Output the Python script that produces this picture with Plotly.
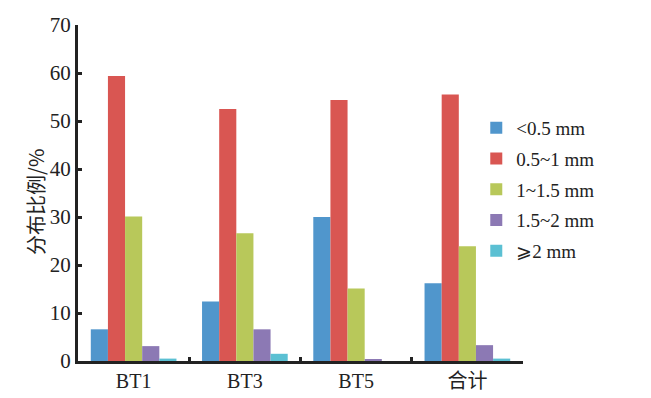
import plotly.graph_objects as go

categories = ["BT1", "BT3", "BT5", "合计"]
series_names = ["<0.5 mm", "0.5~1 mm", "1~1.5 mm", "1.5~2 mm", "⩾2 mm"]
v_lt05 = [6.6, 12.4, 30.0, 16.2]
v_05_1 = [59.4, 52.5, 54.4, 55.5]
v_1_15 = [30.1, 26.6, 15.1, 23.9]
v_15_2 = [3.1, 6.6, 0.4, 3.3]
v_ge2 = [0.5, 1.5, 0.0, 0.5]
colors = ["#5096CC", "#D95652", "#B8C85A", "#8C79B4", "#5BC0D3"]

series = [v_lt05, v_05_1, v_1_15, v_15_2, v_ge2]

fig = go.Figure()
for name, vals, c in zip(series_names, series, colors):
    fig.add_trace(go.Bar(x=categories, y=vals, name=name, marker_color=c,
                         marker_line_width=0, legendgroup=name))

font_main = "'Liberation Serif', 'Noto Sans CJK SC', serif"

fig.update_layout(
    width=643, height=390,
    margin=dict(l=70, r=128, t=17, b=37),
    paper_bgcolor="white", plot_bgcolor="white",
    barmode="group", bargap=0.23, bargroupgap=0,
    font=dict(family=font_main, size=20, color="#222"),
    showlegend=True,
    legend=dict(x=0.895, y=0.75, xanchor="left", yanchor="top",
                font=dict(size=19, family=font_main, color="#222"),
                tracegroupgap=3, itemwidth=30, bgcolor="rgba(0,0,0,0)"),
    xaxis=dict(showline=True, linecolor="#222", linewidth=3, automargin=False,
               ticks="inside", tickson="boundaries", ticklen=4, tickwidth=3, tickcolor="#222",
               range=[-0.5, 3.5], showgrid=False, zeroline=False,
               tickfont=dict(size=20, family=font_main)),
    yaxis=dict(showline=True, linecolor="#222", linewidth=3, automargin=False,
               ticks="inside", ticklen=4, tickwidth=3, tickcolor="#222",
               range=[0, 70], dtick=10, showgrid=False, zeroline=False,
               tickfont=dict(size=21, family=font_main)),
    annotations=[dict(text="分布比例/%", xref="paper", yref="paper",
                      x=-0.097, y=0.473, xanchor="center", yanchor="middle",
                      textangle=-90, showarrow=False,
                      font=dict(size=20, family="'Noto Sans CJK SC', serif", color="#222"))],
)

fig.write_html("out.html")
